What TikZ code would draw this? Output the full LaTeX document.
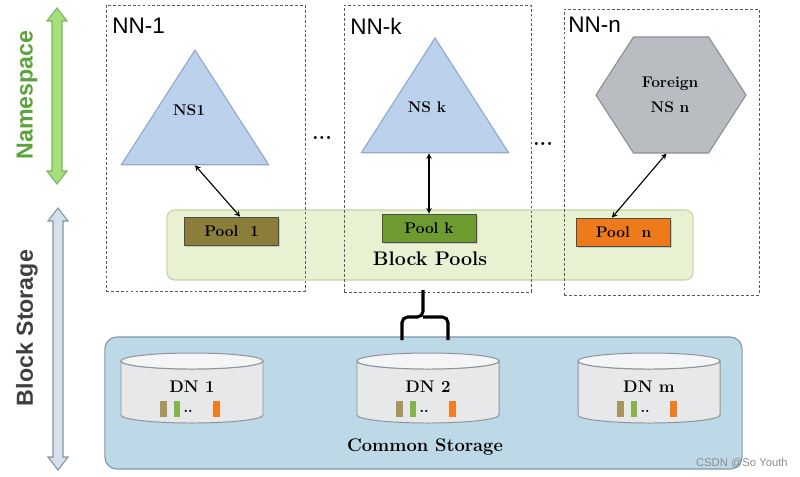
\documentclass[tikz,border=0pt]{standalone}
\usepackage{fontspec}
\setsansfont{Liberation Sans}
\usepackage{tikz}
\usetikzlibrary{positioning,shapes.geometric,shadows}

\definecolor{nsfill}{HTML}{BCD2EC}
\definecolor{nsline}{HTML}{8FAACB}
\definecolor{hexfill}{HTML}{B9BDC1}
\definecolor{hexline}{HTML}{8C9094}
\definecolor{bandfill}{HTML}{E9F1D3}
\definecolor{bandline}{HTML}{C4D4A0}
\definecolor{poolone}{HTML}{8B7D3A}
\definecolor{poolkay}{HTML}{6E9B30}
\definecolor{poolenn}{HTML}{EE7B1B}
\definecolor{storefill}{HTML}{BDD8E6}
\definecolor{storeline}{HTML}{7C98AC}
\definecolor{cylbody}{HTML}{E6E8EA}
\definecolor{cylend}{HTML}{F4F5F6}
\definecolor{cylline}{HTML}{8E9397}
\definecolor{barolive}{HTML}{A9955C}
\definecolor{bargreen}{HTML}{86B44A}
\definecolor{barorange}{HTML}{F07D20}
\definecolor{nsarrowfill}{HTML}{A6E07A}
\definecolor{nsarrowline}{HTML}{76B95A}
\definecolor{nstextcol}{HTML}{5BA33B}
\definecolor{bsarrowfill}{HTML}{D5E1EA}
\definecolor{bsarrowline}{HTML}{8795A2}
\definecolor{bstextcol}{HTML}{3F3F3F}

\begin{document}
\begin{tikzpicture}[x=0.025cm,y=-0.025cm,
  nnbox/.style={draw=black!65,dash pattern=on 2pt off 1.5pt,line width=0.6pt,inner sep=0},
  nnlabel/.style={anchor=north west,inner sep=0,font=\sffamily\fontsize{16}{18}\selectfont},
  sidelabel/.style={rotate=90,inner sep=0,font=\sffamily\bfseries\fontsize{16.5}{18}\selectfont},
  nstri/.style={regular polygon,regular polygon sides=3,minimum size=4.25cm,inner sep=0,
    yscale=0.9,fill=nsfill,draw=nsline,line width=0.8pt},
  nshex/.style={regular polygon,regular polygon sides=6,minimum size=3.75cm,inner sep=0,
    yscale=0.893,fill=hexfill,draw=hexline,line width=0.8pt},
  nstext/.style={font=\bfseries\fontsize{11}{18}\selectfont,inner sep=0},
  poolbox/.style={draw=black!70,line width=0.5pt,minimum width=2.35cm,minimum height=0.7cm,
    inner sep=0,font=\bfseries\fontsize{11}{13}\selectfont,
    drop shadow={shadow xshift=1.2pt,shadow yshift=-1.2pt,opacity=0.3}},
  bigtext/.style={font=\bfseries\fontsize{14}{16}\selectfont,inner sep=0},
  cylside/.style={fill=cylbody,draw=cylline,line width=0.7pt},
  cyltop/.style={fill=cylend,draw=cylline,line width=0.7pt},
  dntext/.style={font=\bfseries\fontsize{12}{14}\selectfont,inner sep=0},
  link/.style={<->,>=stealth,line width=0.8pt},
  dots/.style={font=\bfseries\fontsize{15}{16}\selectfont,inner sep=0}]
  \useasboundingbox (0,0) rectangle (800,476);
  % draw side arrows
  \draw[fill=nsarrowfill,draw=nsarrowline,line width=0.8pt] (52,21) -- (47,21) -- (57,8) -- (67,21)
    -- (62,21) -- (62,171) -- (67,171) -- (57,184) -- (47,171) -- (52,171) -- cycle;
  \draw[fill=bsarrowfill,draw=bsarrowline,line width=0.8pt] (53,221) -- (48,221) -- (58,208) -- (68,221)
    -- (63,221) -- (63,457) -- (68,457) -- (58,470) -- (48,457) -- (53,457) -- cycle;
  \node[sidelabel,text=nstextcol] (nslbl) at (27,95) {Namespace};
  \node[sidelabel,text=bstextcol] (bslbl) at (27,328) {Block Storage};
  % draw block pools band
  \node[fill=bandfill,draw=bandline,line width=0.8pt,rounded corners=0.2cm,
    minimum width=13.15cm,minimum height=1.75cm] (pools) at (430,245) {};
  \node[bigtext] (poolstxt) at (430,259) {Block Pools};
  % draw namenode boxes
  \node[nnbox,minimum width=4.975cm,minimum height=7.15cm] (nn1) at (205.5,148) {};
  \node[nnbox,minimum width=4.675cm,minimum height=7.175cm] (nnk) at (437.5,148.5) {};
  \node[nnbox,minimum width=4.875cm,minimum height=7.15cm] (nnn) at (661.5,152) {};
  \node[nnlabel] (nn1lbl) at (112,18) {NN-1};
  \node[nnlabel] (nnklbl) at (350,18) {NN-k};
  \node[nnlabel] (nnnlbl) at (568,17) {NN-n};
  % draw namespaces
  \node[nstri] (ns1) at (195,126.5) {};
  \node[nstext] (ns1t) at (189,110) {NS1};
  \node[nstri] (nsk) at (435,114.5) {};
  \node[nstext] (nskt) at (427,107) {NS k};
  \node[nshex] (nsn) at (671,95) {};
  \node[nstext,align=center] (nsnt) at (670,95) {Foreign\\NS n};
  % draw pools
  \node[poolbox,fill=poolone] (pool1) at (231.5,231) {Pool\ \ 1};
  \node[poolbox,fill=poolkay] (poolk) at (429,228) {Pool k};
  \node[poolbox,fill=poolenn] (pooln) at (623.5,232) {Pool\ \ n};
  % draw links
  \draw[link] (ns1.side 2) -- (pool1.59);
  \draw[link] (poolk.north |- nsk.side 2) -- (poolk.north);
  \draw[link] (nsn.-94) -- (pooln.129);
  \node[dots] (dots1) at (322,138) {...};
  \node[dots] (dots2) at (543,144) {...};
  % draw common storage
  \node[fill=storefill,draw=storeline,line width=0.8pt,rounded corners=0.3cm,
    minimum width=15.925cm,minimum height=3.3cm] (store) at (423.5,403) {};
  \node[bigtext,font=\bfseries\fontsize{13}{15}\selectfont] (storetxt) at (425,447) {Common Storage};
  % draw brace
  \draw[line width=2.2pt,rounded corners=4pt] (402,340) |- (423,317) -- (423,290);
  \draw[line width=2.2pt,rounded corners=4pt] (448,340) |- (423,317);
  % draw datanodes
  \draw[cylside] (121,361) -- (121,415) arc[start angle=180,end angle=0,x radius=71,y radius=8]
    -- (263,361) arc[start angle=0,end angle=180,x radius=71,y radius=8] -- cycle;
  \draw[cyltop] (192,361) ellipse[x radius=71,y radius=8];
  \draw[cylside] (357,361) -- (357,415) arc[start angle=180,end angle=0,x radius=71,y radius=8]
    -- (499,361) arc[start angle=0,end angle=180,x radius=71,y radius=8] -- cycle;
  \draw[cyltop] (428,361) ellipse[x radius=71,y radius=8];
  \draw[cylside] (578,361) -- (578,415) arc[start angle=180,end angle=0,x radius=71,y radius=8]
    -- (720,361) arc[start angle=0,end angle=180,x radius=71,y radius=8] -- cycle;
  \draw[cyltop] (649,361) ellipse[x radius=71,y radius=8];
  \node[dntext] (dn1) at (192,387) {DN 1};
  \node[dntext] (dn2) at (428,387) {DN 2};
  \node[dntext] (dnm) at (649,387) {DN m};
  % draw blocks
  \fill[barolive] (160,401) rectangle (167,417);
  \fill[bargreen] (174,401) rectangle (180,417);
  \node[dots,font=\bfseries\fontsize{10}{12}\selectfont] (bd1) at (188,411) {..};
  \fill[barorange] (213,401) rectangle (220,417);
  \fill[barolive] (396,401) rectangle (403,417);
  \fill[bargreen] (410,401) rectangle (416,417);
  \node[dots,font=\bfseries\fontsize{10}{12}\selectfont] (bd2) at (424,411) {..};
  \fill[barorange] (449,401) rectangle (456,417);
  \fill[barolive] (617,401) rectangle (624,417);
  \fill[bargreen] (631,401) rectangle (637,417);
  \node[dots,font=\bfseries\fontsize{10}{12}\selectfont] (bdm) at (645,411) {..};
  \fill[barorange] (670,401) rectangle (677,417);
  \node[font=\sffamily\fontsize{8}{10}\selectfont,text=black!45,anchor=east,inner sep=0] (csdn) at (788,463) {CSDN @So Youth};
\end{tikzpicture}
\end{document}
